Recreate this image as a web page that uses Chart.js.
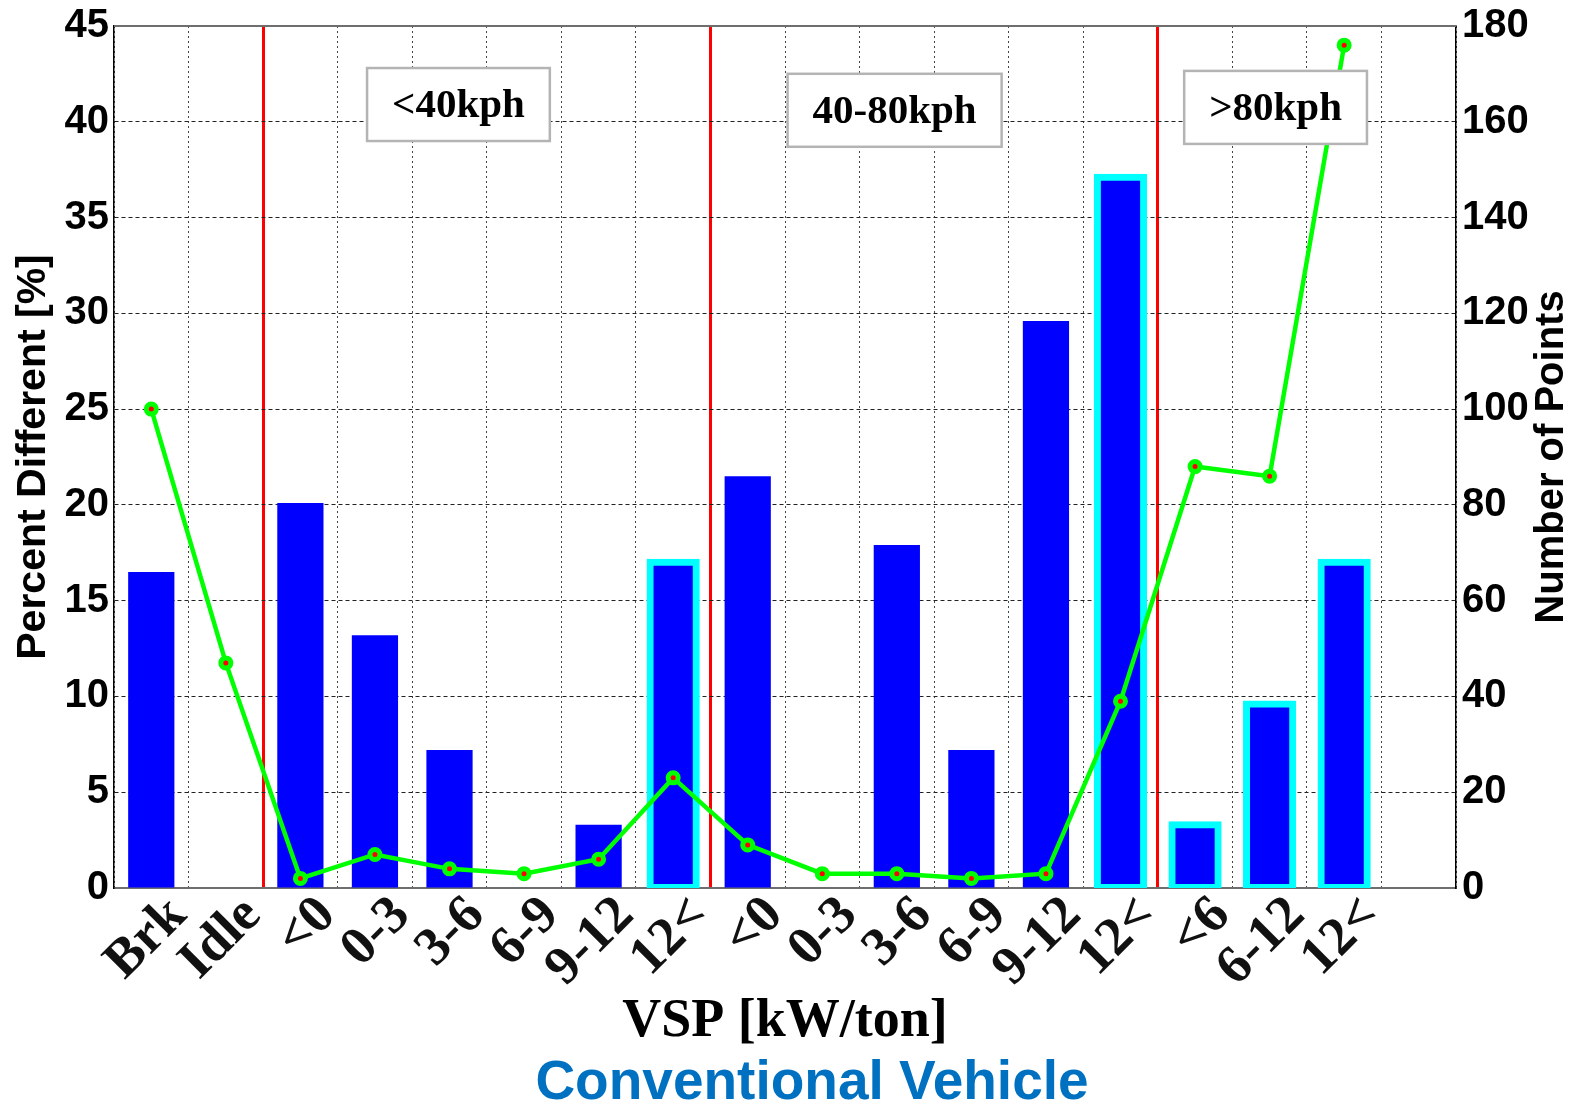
<!DOCTYPE html>
<html>
<head>
<meta charset="utf-8">
<title>Conventional Vehicle</title>
<script src="https://cdn.jsdelivr.net/npm/chart.js@4.4.1/dist/chart.umd.min.js"></script>
<style>
	body { margin: 0; background: #fff; }
	#wrap { width: 1579px; height: 1105px; position: relative; }
</style>
</head>
<body>
<div id="wrap"><canvas id="myChart"></canvas></div>
<script>
// VSP bins (last slot is empty, like the original figure)
const categorias = ['Brk', 'Idle', '<0', '0-3', '3-6', '6-9', '9-12', '12<', '<0', '0-3', '3-6', '6-9', '9-12', '12<', '<6', '6-12', '12<', '']
// bars, left axis
const pctDiff = [16.5, 0, 20.1, 13.2, 7.2, 0, 3.3, 17.0, 21.5, 0, 17.9, 7.2, 29.6, 37.1, 3.3, 9.6, 17.0, null]
// line, right axis
const numPoints = [100, 47, 2, 7, 4, 3, 6, 23, 9, 3, 3, 2, 3, 39, 88, 86, 176, null]
// bars drawn with the cyan edge
const destaque = [0, 0, 0, 0, 0, 0, 0, 1, 0, 0, 0, 0, 0, 1, 1, 1, 1, 0]
// speed ranges
const faixas = ['<40kph', '40-80kph', '>80kph']
const faixaX = [4.12, 9.97, 15.08]
const faixaY = [40.9, 40.6, 40.75]
const divisoes = [2, 8, 14]

const W = 1579, H = 1105

const extras = {
	id: 'extras',
	afterDraw(chart) {
		const ctx = chart.ctx
		const a = chart.chartArea
		const x = chart.scales.x
		const y = chart.scales.y

		// top frame line
		ctx.save()
		ctx.strokeStyle = '#6e6e6e'
		ctx.lineWidth = 2
		ctx.beginPath()
		ctx.moveTo(a.left, a.top)
		ctx.lineTo(a.right, a.top)
		ctx.stroke()

		// speed range boxes
		ctx.font = 'bold 41px "Liberation Serif"'
		ctx.textAlign = 'center'
		ctx.textBaseline = 'middle'
		for (let i = 0; i < faixas.length; i++) {
			const cx = x.getPixelForValue(faixaX[i])
			const cy = y.getPixelForValue(faixaY[i])
			const w = ctx.measureText(faixas[i]).width + 50
			const h = 73
			ctx.fillStyle = '#fff'
			ctx.fillRect(cx - w / 2, cy - h / 2, w, h)
			ctx.strokeStyle = '#b4b4b4'
			ctx.lineWidth = 2.5
			ctx.strokeRect(cx - w / 2, cy - h / 2, w, h)
			ctx.fillStyle = '#000'
			ctx.fillText(faixas[i], cx, cy + 2)
		}

		// right axis title, reading upwards
		ctx.font = 'bold 40px "Liberation Sans"'
		ctx.translate(W - 27, (a.top + a.bottom) / 2)
		ctx.rotate(-Math.PI / 2)
		ctx.fillText('Number of Points', 0, 0)
		ctx.restore()

		// caption
		ctx.save()
		ctx.font = 'bold 55px "Liberation Sans"'
		ctx.fillStyle = '#0070c0'
		ctx.textAlign = 'center'
		ctx.textBaseline = 'alphabetic'
		ctx.fillText('Conventional Vehicle', 812, 1099)
		ctx.restore()
	}
}

const config = {
	data: {
		labels: categorias,
		datasets: [{
			type: 'line',
			label: 'Number of Points',
			data: numPoints,
			yAxisID: 'y1',
			borderColor: '#00ff00',
			borderWidth: 4.5,
			pointRadius: 5,
			pointBorderWidth: 5,
			pointBorderColor: '#00ff00',
			pointBackgroundColor: '#ff0000',
			order: 0
		}, {
			type: 'bar',
			label: 'Percent Different',
			data: pctDiff,
			yAxisID: 'y',
			backgroundColor: '#0000ff',
			borderColor: '#00ffff',
			borderWidth: c => destaque[c.dataIndex] ? 7 : 0,
			borderSkipped: false,
			inflateAmount: c => destaque[c.dataIndex] ? 3.5 : 'auto',
			barPercentage: 0.62,
			categoryPercentage: 1,
			order: 1
		}]
	},
	options: {
		responsive: true,
		maintainAspectRatio: false,
		animation: false,
		layout: { padding: { top: 25, bottom: 54, left: 0, right: 0 } },
		plugins: {
			legend: { display: false },
			tooltip: { enabled: false }
		},
		scales: {
			x: {
				offset: true,
				grid: {
					offset: true,
					drawTicks: false,
					color: c => divisoes.includes(c.index) ? '#ff0000' : '#444',
					lineWidth: c => divisoes.includes(c.index) ? 3 : 1
				},
				border: {
					color: '#6e6e6e',
					width: 2,
					dash: c => divisoes.includes(c.index) ? [] : [2, 3]
				},
				ticks: {
					autoSkip: false,
					maxRotation: 45,
					minRotation: 45,
					labelOffset: 27,
					padding: 0,
					color: '#111',
					font: { family: 'Liberation Serif', weight: 'bold', size: 54, lineHeight: 1 }
				},
				title: {
					display: true,
					text: 'VSP [kW/ton]',
					color: '#000',
					padding: { top: 0, bottom: 2 },
					font: { family: 'Liberation Serif', weight: 'bold', size: 54, lineHeight: 1 }
				},
				afterFit: s => { s.height = 163 }
			},
			y: {
				position: 'left',
				min: 0,
				max: 45,
				ticks: {
					stepSize: 5,
					padding: 5,
					color: '#000',
					font: { family: 'Liberation Sans', weight: 'bold', size: 40, lineHeight: 1 }
				},
				grid: { drawTicks: false, color: '#222', lineWidth: 1 },
				border: { color: '#000', width: 1.5, dash: [4, 3] },
				title: {
					display: true,
					text: 'Percent Different [%]',
					color: '#000',
					padding: { top: 13, bottom: 0 },
					font: { family: 'Liberation Sans', weight: 'bold', size: 41, lineHeight: 1 }
				},
				afterFit: s => { s.width = 114 }
			},
			y1: {
				position: 'right',
				min: 0,
				max: 180,
				ticks: {
					stepSize: 20,
					padding: 6,
					color: '#000',
					font: { family: 'Liberation Sans', weight: 'bold', size: 40, lineHeight: 1 }
				},
				grid: { drawOnChartArea: false, drawTicks: false },
				border: { color: '#000', width: 1.5 },
				afterFit: s => { s.width = W - 1456 }
			}
		}
	},
	plugins: [extras]
}

const myChart = new Chart(document.getElementById('myChart'), config)
</script>
</body>
</html>
